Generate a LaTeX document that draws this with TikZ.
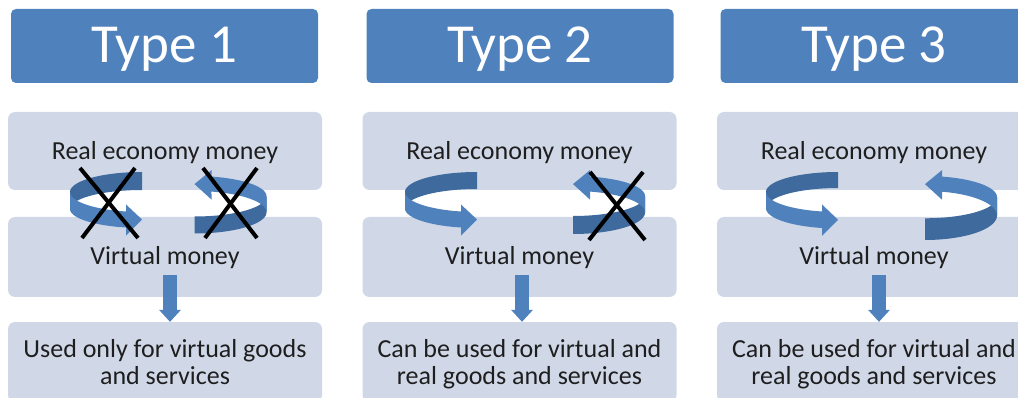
\documentclass[tikz,border=0pt]{standalone}
\usepackage{fontspec}
\setmainfont{Carlito}
\usetikzlibrary{arrows.meta}
\definecolor{accent}{HTML}{4F81BD}
\definecolor{accentdark}{HTML}{3F6A9E}
\definecolor{panel}{HTML}{D0D8E8}
\definecolor{ink}{HTML}{1E1E1E}
\tikzset{
  header/.style={fill=accent, rounded corners=5pt, minimum width=307pt, minimum height=74pt, inner sep=0pt},
  panelbox/.style={fill=panel, rounded corners=7pt, minimum width=314pt, inner sep=0pt},
  headtext/.style={text=white, font=\fontsize{55}{60}\selectfont, anchor=base, inner sep=0pt},
  bodytext/.style={text=ink, font=\fontsize{26}{28}\selectfont, anchor=base, inner sep=0pt},
  downarrow/.style={draw=accent, line width=14pt, -{Triangle[width=22pt,length=12pt,line width=0pt]}},
  cross/.style={draw=black, line width=4pt},
}
% Ribbon ring arrow turning left: back half dark, front half light, head at the front.
% #1 axis x, #2 outer top, #3 inner top, #4 inner bottom, #5 outer bottom
\newcommand\leftring[5]{%
  \pgfmathsetmacro\rgca{(#2+#4)/2}\pgfmathsetmacro\rgba{(#4-#2)/2}%
  \pgfmathsetmacro\rgcb{(#3+#5)/2}\pgfmathsetmacro\rgbb{(#5-#3)/2}%
  \pgfmathsetmacro\rgpe{acos(-16/72)}%
  \pgfmathsetmacro\rgya{\rgca+\rgba*sin(\rgpe)}\pgfmathsetmacro\rgyb{\rgcb+\rgbb*sin(\rgpe)}%
  \pgfmathsetmacro\rgxe{#1-16}\pgfmathsetmacro\rgym{(\rgya+\rgyb)/2}%
  \fill[accentdark] plot[domain=270:180,samples=40] ({#1+72*cos(\x)},{\rgca+\rgba*sin(\x)})
     -- plot[domain=180:270,samples=40] ({#1+72*cos(\x)},{\rgcb+\rgbb*sin(\x)}) -- cycle;
  \fill[accent] plot[domain=180:\rgpe,samples=40] ({#1+72*cos(\x)},{\rgca+\rgba*sin(\x)})
     -- ({\rgxe},{\rgya-7}) -- ({#1},{\rgym}) -- ({\rgxe},{\rgyb+8})
     -- plot[domain=\rgpe:180,samples=40] ({#1+72*cos(\x)},{\rgcb+\rgbb*sin(\x)}) -- cycle;
}
% The same ribbon turned half round: head at the top pointing left.
\newcommand\rightring[5]{%
  \pgfmathsetmacro\rgca{(#2+#4)/2}\pgfmathsetmacro\rgba{(#4-#2)/2}%
  \pgfmathsetmacro\rgcb{(#3+#5)/2}\pgfmathsetmacro\rgbb{(#5-#3)/2}%
  \pgfmathsetmacro\rgpe{-acos(17/72)}%
  \pgfmathsetmacro\rgya{\rgca+\rgba*sin(\rgpe)}\pgfmathsetmacro\rgyb{\rgcb+\rgbb*sin(\rgpe)}%
  \pgfmathsetmacro\rgxe{#1+17}\pgfmathsetmacro\rgym{(\rgya+\rgyb)/2}%
  \fill[accentdark] plot[domain=90:0,samples=40] ({#1+72*cos(\x)},{\rgca+\rgba*sin(\x)})
     -- plot[domain=0:90,samples=40] ({#1+72*cos(\x)},{\rgcb+\rgbb*sin(\x)}) -- cycle;
  \fill[accent] plot[domain=0:\rgpe,samples=40] ({#1+72*cos(\x)},{\rgca+\rgba*sin(\x)})
     -- ({\rgxe},{\rgya-6.5}) -- ({#1},{\rgym}) -- ({\rgxe},{\rgyb+8})
     -- plot[domain=\rgpe:0,samples=40] ({#1+72*cos(\x)},{\rgcb+\rgbb*sin(\x)}) -- cycle;
}
\begin{document}
\begin{tikzpicture}[x=1pt,y=-1pt]
\useasboundingbox (0,0) rectangle (1018,398);
\clip (0,0) rectangle (1018,398);

% ---- Type 1 ----
\node[header] (h1) at (164.5,46) {};
\node[headtext] (t1) at (164.5,63) {Type 1};
\node[panelbox, minimum height=78pt] (r1) at (165,151) {};
\node[panelbox, minimum height=80pt] (v1) at (165,257) {};
\node[panelbox, minimum height=80pt] (u1) at (165,362) {};
\node[bodytext] (rt1) at (165,160) {Real economy money};
\node[bodytext] (vt1) at (165,264.5) {Virtual money};
\node[bodytext] (ua1) at (165,357) {Used only for virtual goods};
\node[bodytext] (ub1) at (165,384) {and services};
\coordinate (d1) at (170,275);
\draw[downarrow] (d1) -- (d1 |- u1.north);
\leftring{142}{172}{190}{212}{228}
\rightring{194.5}{176}{191}{216.5}{233.5}
\draw[cross] (80,168) -- (138,238);
\draw[cross] (135,168) -- (82,238);
\draw[cross] (203,168) -- (257,238);
\draw[cross] (257,168) -- (205,238);

% ---- Type 2 ----
\node[header] (h2) at (520,46) {};
\node[headtext] (t2) at (520,63) {Type 2};
\node[panelbox, minimum height=78pt] (r2) at (519.5,151) {};
\node[panelbox, minimum height=80pt] (v2) at (519.5,257) {};
\node[panelbox, minimum height=80pt] (u2) at (519.5,362) {};
\node[bodytext] (rt2) at (519.5,160) {Real economy money};
\node[bodytext] (vt2) at (519.5,264.5) {Virtual money};
\node[bodytext] (ua2) at (519.5,357) {Can be used for virtual and};
\node[bodytext] (ub2) at (519.5,384) {real goods and services};
\coordinate (d2) at (522,275);
\draw[downarrow] (d2) -- (d2 |- u2.north);
\leftring{477}{172}{189}{212}{228}
\rightring{573}{176}{191}{216}{234}
\draw[cross] (590,172) -- (645,240);
\draw[cross] (643,172) -- (589,240);

% ---- Type 3 ----
\node[header] (h3) at (874,46) {};
\node[headtext] (t3) at (874,63) {Type 3};
\node[panelbox, minimum height=78pt] (r3) at (874,151) {};
\node[panelbox, minimum height=80pt] (v3) at (874,257) {};
\node[panelbox, minimum height=80pt] (u3) at (874,362) {};
\node[bodytext] (rt3) at (874,160) {Real economy money};
\node[bodytext] (vt3) at (874,264.5) {Virtual money};
\node[bodytext] (ua3) at (874,357) {Can be used for virtual and};
\node[bodytext] (ub3) at (874,384) {real goods and services};
\coordinate (d3) at (879,275);
\draw[downarrow] (d3) -- (d3 |- u3.north);
\leftring{838}{172}{188}{212}{228.5}
\rightring{925}{176}{191}{218.3}{240}
\end{tikzpicture}
\end{document}
